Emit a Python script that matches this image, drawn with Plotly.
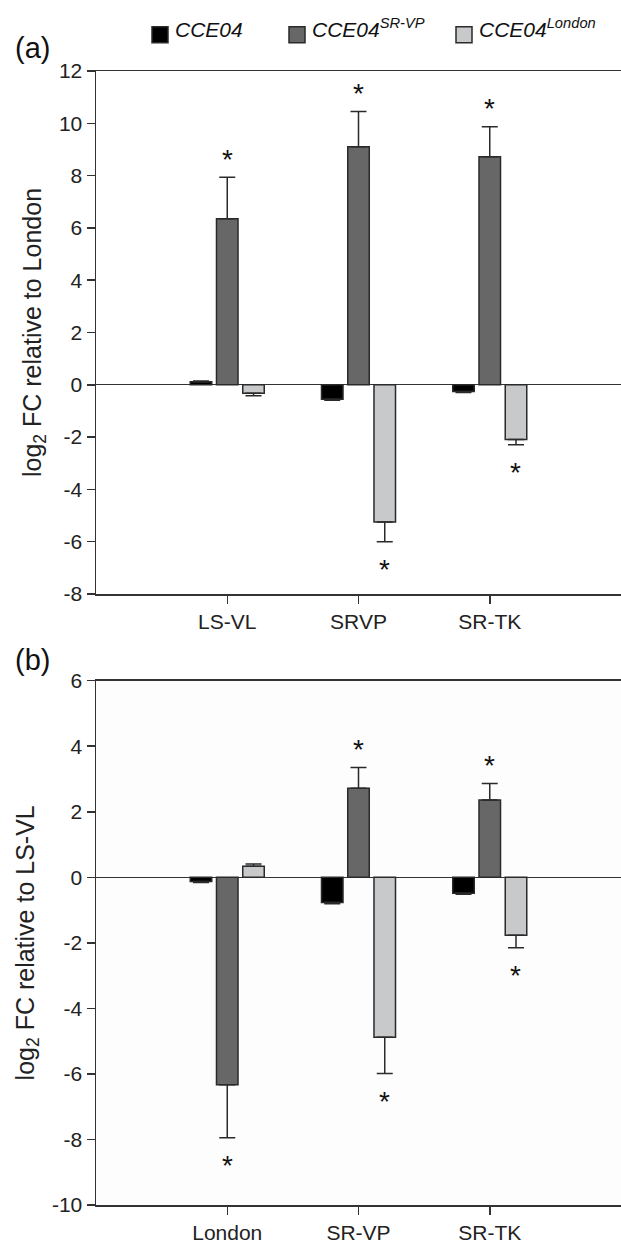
import plotly.graph_objects as go

# ---------------- data ----------------
cats_a = ["LS-VL", "SRVP", "SR-TK"]
cats_b = ["London", "SR-VP", "SR-TK"]

series_names = [
    "<i>CCE04</i>",
    "<i>CCE04</i><sup><i>SR-VP</i></sup>",
    "<i>CCE04</i><sup><i>London</i></sup>",
]

# panel (a): log2 FC relative to London
a_cce04 = [0.12, -0.55, -0.26]
a_cce04_err = [0.03, 0.04, 0.03]
a_srvp = [6.35, 9.10, 8.72]
a_srvp_err = [1.59, 1.35, 1.15]
a_london = [-0.32, -5.25, -2.09]
a_london_err = [0.10, 0.75, 0.20]
a_cce04_sig = [False, False, False]
a_srvp_sig = [True, True, True]
a_london_sig = [False, True, True]

# panel (b): log2 FC relative to LS-VL
b_cce04 = [-0.13, -0.77, -0.49]
b_cce04_err = [0.03, 0.04, 0.03]
b_srvp = [-6.33, 2.72, 2.36]
b_srvp_err = [1.62, 0.63, 0.50]
b_london = [0.34, -4.88, -1.77]
b_london_err = [0.07, 1.11, 0.38]
b_cce04_sig = [False, False, False]
b_srvp_sig = [True, True, True]
b_london_sig = [False, True, True]

yticks_a = [-8, -6, -4, -2, 0, 2, 4, 6, 8, 10, 12]
yticks_b = [-10, -8, -6, -4, -2, 0, 2, 4, 6]

# ---------------- style ----------------
FONT = "Liberation Sans, Arial, sans-serif"
fills = ["#000000", "#676767", "#c8c9cb"]
edge = "#2a2a2a"
axcol = "#333333"
W, H = 621, 1247
ML, MR = 96, 0
PW = W - ML - MR
SLOT_PX = 26.2  # horizontal pixel step between bars inside a group


def px2x(px):
    return (px - ML) / PW


def py2y(py):
    return 1 - py / H


fig = go.Figure()

panels = [
    ("x", "y", cats_a,
     [(a_cce04, a_cce04_err, a_cce04_sig), (a_srvp, a_srvp_err, a_srvp_sig), (a_london, a_london_err, a_london_sig)]),
    ("x2", "y2", cats_b,
     [(b_cce04, b_cce04_err, b_cce04_sig), (b_srvp, b_srvp_err, b_srvp_sig), (b_london, b_london_err, b_london_sig)]),
]

annotations = []
shapes = []
for xa, ya, cats, series in panels:
    for k, (vals, errs, sig) in enumerate(series):
        up = [e if v >= 0 else 0 for v, e in zip(vals, errs)]
        down = [e if v < 0 else 0 for v, e in zip(vals, errs)]
        fig.add_trace(go.Bar(
            x=cats, y=vals, name=series_names[k], xaxis=xa, yaxis=ya,
            marker=dict(color=fills[k], line=dict(color=edge, width=1.5)),
            error_y=dict(type="data", symmetric=False, array=up, arrayminus=down,
                         color=edge, thickness=1.5, width=8),
            showlegend=False,
        ))
        for c, v, e, s in zip(cats, vals, errs, sig):
            if not s:
                continue
            pos = v >= 0
            annotations.append(dict(
                x=c, y=v + e if pos else v - e, xref=xa, yref=ya,
                text="*", showarrow=False,
                xshift=(k - 1) * SLOT_PX, yshift=18 if pos else -28,
                font=dict(family=FONT, size=28, color="#111111"),
                xanchor="center", yanchor="middle",
            ))

# panel letters
for lab, cy in [("(a)", 47.5), ("(b)", 660)]:
    annotations.append(dict(text=lab, x=px2x(32), y=py2y(cy), xref="paper", yref="paper",
                            showarrow=False, xanchor="center", yanchor="middle",
                            font=dict(family=FONT, size=29, color="#111111")))

# legend (drawn as keys + labels across the top)
legend_sq_left = [152, 289, 456]
for k, left in enumerate(legend_sq_left):
    shapes.append(dict(type="rect", xref="paper", yref="paper",
                       x0=px2x(left), x1=px2x(left + 16), y0=py2y(42.7), y1=py2y(26.7),
                       fillcolor=fills[k], line=dict(color=edge, width=1.5)))
    annotations.append(dict(text=series_names[k], x=px2x(left + 21), y=py2y(43),
                            xref="paper", yref="paper", showarrow=False,
                            xanchor="left", yanchor="bottom",
                            font=dict(family=FONT, size=21, color="#111111")))

shapes.append(dict(type="rect", xref="x2 domain", yref="y2 domain", x0=0, x1=1, y0=0, y1=1,
                   fillcolor="#fdfdfd", line=dict(width=0), layer="below"))

xcommon = dict(
    range=[-1, 3], showline=True, linecolor=axcol, linewidth=1.5, mirror=True,
    ticks="outside", ticklen=8, tickwidth=1.5, tickcolor=axcol,
    tickfont=dict(family=FONT, size=21, color="#222222"),
    showgrid=False, zeroline=False, fixedrange=True, automargin=False,
)
ycommon = dict(
    showline=True, linecolor=axcol, linewidth=1.5, mirror=False,
    ticks="outside", ticklen=8, tickwidth=1.5, tickcolor=axcol,
    tickfont=dict(family=FONT, size=21, color="#222222"),
    showgrid=False, zeroline=True, zerolinecolor=axcol, zerolinewidth=1.2,
    fixedrange=True, automargin=False,
)

fig.update_layout(
    width=W, height=H,
    margin=dict(l=ML, r=MR, t=0, b=0, autoexpand=False),
    paper_bgcolor="white", plot_bgcolor="white",
    barmode="group", bargap=0.40, bargroupgap=0.18,
    font=dict(family=FONT, color="#222222"),
    showlegend=False,
    hovermode=False,
    xaxis=dict(xcommon, anchor="y", domain=[0, 1]),
    yaxis=dict(ycommon, anchor="x", domain=[py2y(594), py2y(71)], range=[-8, 12],
               tickvals=yticks_a, ticktext=[str(v) for v in yticks_a],
               title=dict(text="log<sub>2</sub> FC relative to London",
                          font=dict(family=FONT, size=25, color="#222222"), standoff=10)),
    xaxis2=dict(xcommon, anchor="y2", domain=[0, 1]),
    yaxis2=dict(ycommon, anchor="x2", domain=[py2y(1205), py2y(680.7)], range=[-10, 6],
                tickvals=yticks_b, ticktext=[str(v) for v in yticks_b],
                title=dict(text="log<sub>2</sub> FC relative to LS-VL",
                           font=dict(family=FONT, size=25, color="#222222"), standoff=10)),
    annotations=annotations,
    shapes=shapes,
)

fig.write_html("out.html", config={"displayModeBar": False, "staticPlot": True},
               post_script="document.body.style.margin='0px';")
